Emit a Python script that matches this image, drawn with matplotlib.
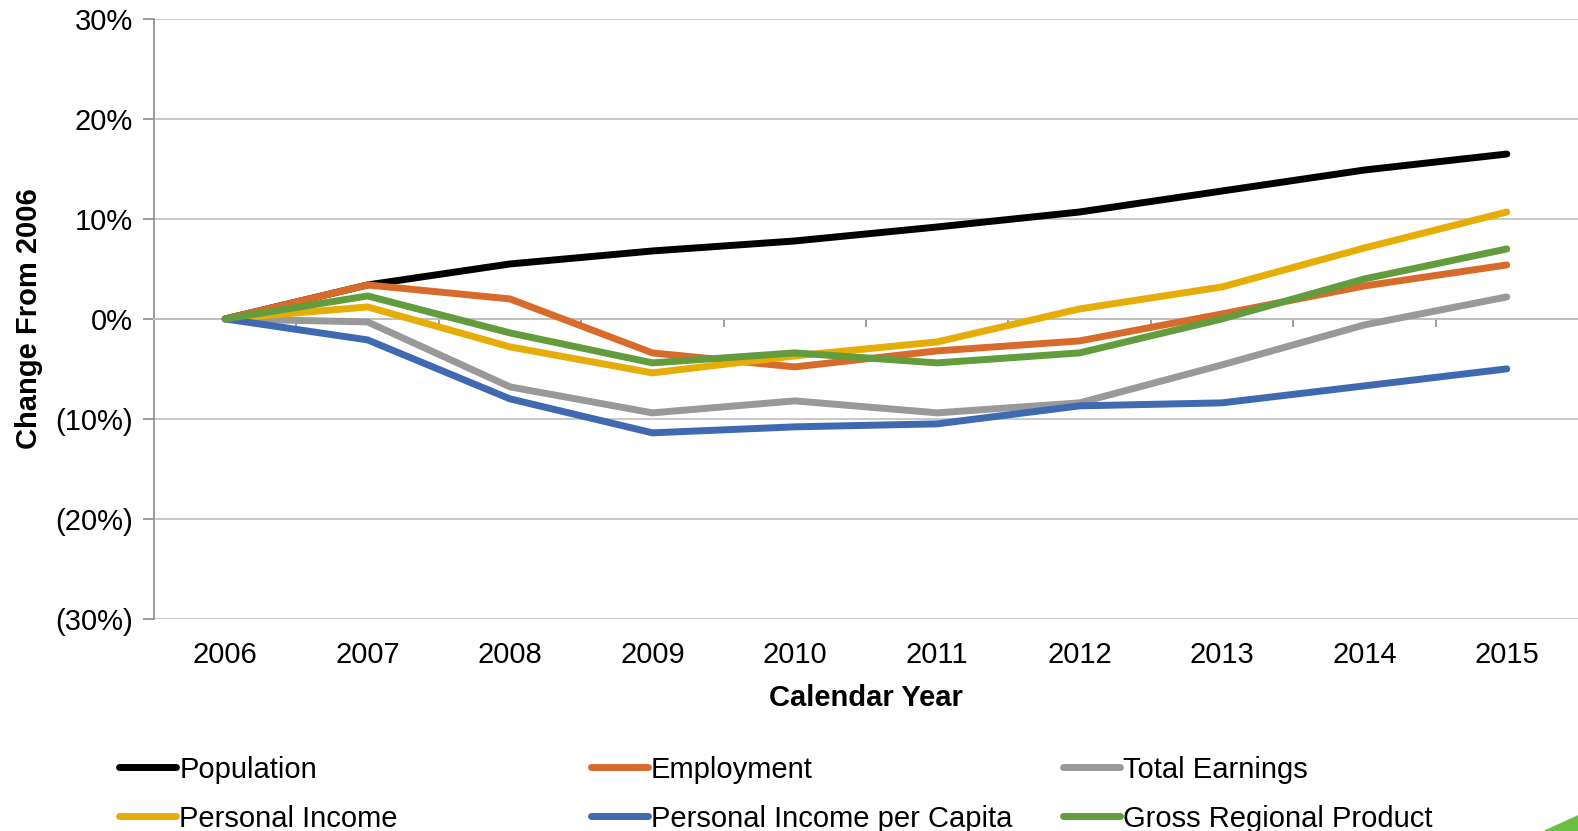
import matplotlib.pyplot as plt
from matplotlib.lines import Line2D
from matplotlib.patches import Polygon
import numpy as np

plt.rcParams['font.family'] = ['Liberation Sans', 'DejaVu Sans']

years = ['2006', '2007', '2008', '2009', '2010', '2011', '2012', '2013', '2014', '2015']

# change from 2006, in percent
population = [0, 3.4, 5.5, 6.8, 7.8, 9.2, 10.7, 12.8, 14.9, 16.5]
employment = [0, 3.4, 2.0, -3.4, -4.8, -3.2, -2.2, 0.5, 3.3, 5.4]
total_earnings = [0, -0.3, -6.8, -9.4, -8.2, -9.4, -8.4, -4.6, -0.6, 2.2]
personal_income = [0, 1.2, -2.8, -5.4, -3.7, -2.3, 1.0, 3.2, 7.1, 10.7]
income_per_capita = [0, -2.1, -8.0, -11.4, -10.8, -10.5, -8.7, -8.4, -6.7, -5.0]
gross_regional_product = [0, 2.3, -1.4, -4.4, -3.4, -4.4, -3.4, 0.0, 4.0, 7.0]

series = [
    ('Population', population, '#000000'),
    ('Employment', employment, '#D86B2C'),
    ('Total Earnings', total_earnings, '#999999'),
    ('Personal Income', personal_income, '#E5AD06'),
    ('Personal Income per Capita', income_per_capita, '#3F69B1'),
    ('Gross Regional Product', gross_regional_product, '#629C3D'),
]

y_ticks = [30, 20, 10, 0, -10, -20, -30]
y_labels = ['30%', '20%', '10%', '0%', '(10%)', '(20%)', '(30%)']

FS = 21
GRID = '#BFBFBF'
AXIS = '#8C8C8C'
W, H = 1568, 826  # layout measured on the reference at this scale

fig = plt.figure(figsize=(15.78, 8.31), dpi=100)
ax = fig.add_axes([153 / W, 1 - 615 / H, (W - 153) / W, 596 / H])

x = np.arange(len(years))
for name, vals, color in series:
    ax.plot(x, vals, color=color, lw=5, solid_capstyle='round',
            solid_joinstyle='round', label=name, zorder=3)

ax.set_xlim(-0.5, len(years) - 0.5)
ax.set_ylim(-30, 30)

# gridlines
for v in y_ticks:
    if v != 0:
        ax.axhline(v, color=GRID, lw=1.2, zorder=1)

ax.set_yticks(y_ticks)
ax.set_yticklabels(y_labels, fontsize=FS)
ax.tick_params(axis='y', length=8, width=1.2, color=AXIS, pad=7)

for s in ['top', 'right']:
    ax.spines[s].set_visible(False)
ax.spines['left'].set_color(AXIS)
ax.spines['left'].set_linewidth(1.2)

# category axis sits on the zero line, ticks between categories
ax.spines['bottom'].set_position(('data', 0))
ax.spines['bottom'].set_color(GRID)
ax.spines['bottom'].set_linewidth(1.5)
ax.set_xticks(np.arange(0.5, len(years) - 0.5))
ax.set_xticklabels([])
ax.tick_params(axis='x', length=6, width=1.2, color=AXIS, direction='out')

sec = ax.secondary_xaxis('bottom')
sec.set_xticks(x)
sec.set_xticklabels(years, fontsize=FS)
sec.tick_params(length=0, pad=16)
sec.spines['bottom'].set_visible(False)
sec.set_xlabel('Calendar Year', fontsize=FS, fontweight='bold', labelpad=11)

ax.set_ylabel('Change From 2006', fontsize=FS, fontweight='bold')
ax.yaxis.set_label_coords(-(153 - 43) / (W - 153), 0.5)

# legend: three fixed columns, two rows each
col_x = [118, 587, 1056]
order = [[0, 3], [1, 4], [2, 5]]
for cx, idx in zip(col_x, order):
    handles = [Line2D([0], [0], color=series[i][2], lw=5, solid_capstyle='round') for i in idx]
    labels = [series[i][0] for i in idx]
    fig.legend(handles, labels, loc='upper left',
               bbox_to_anchor=(cx / W, 1 - 751 / H),
               frameon=False, fontsize=FS, handlelength=1.95,
               handletextpad=0.12, borderpad=0, borderaxespad=0,
               labelspacing=0.72)

# green corner decoration
fig.patches.append(Polygon([(1535 / W, 0), (1, 15 / H), (1, 0)],
                           closed=True, transform=fig.transFigure,
                           color='#6CBF45', zorder=0))

fig.savefig('out.png', dpi=100)
